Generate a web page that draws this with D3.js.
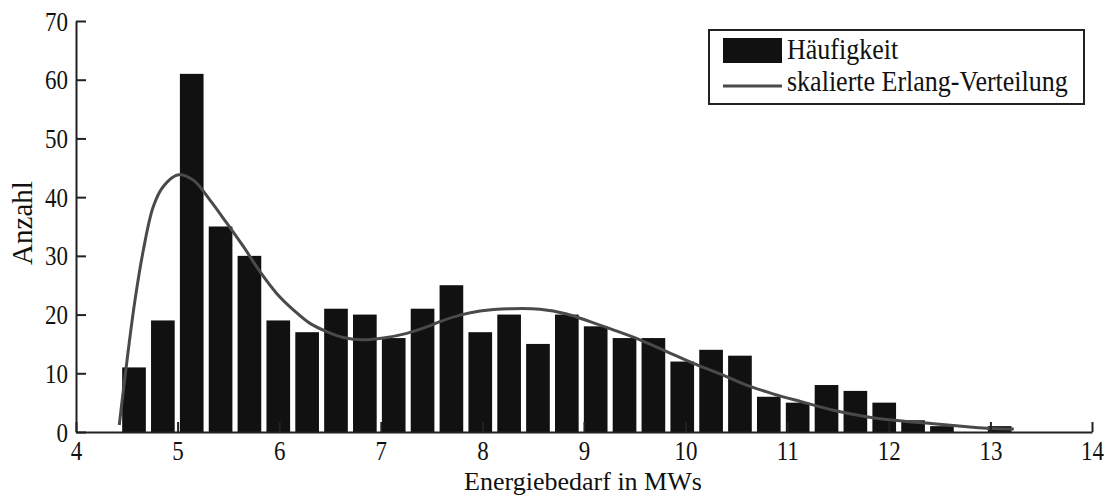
<!DOCTYPE html>
<html>
<head>
<meta charset="utf-8">
<script src="https://cdn.jsdelivr.net/npm/d3@7"></script>
<style>
  body { margin: 0; background: #fff; }
  text { font-family: "Liberation Serif", "Times New Roman", serif; }
</style>
</head>
<body>
<svg id="chart" width="1107" height="495"></svg>
<script>
// bin centers (MWs) and counts
var binCenters = [4.571, 4.855, 5.139, 5.423, 5.707, 5.991, 6.275, 6.559, 6.843, 7.127,
                  7.411, 7.695, 7.979, 8.263, 8.547, 8.831, 9.115, 9.399, 9.683, 9.967,
                  10.251, 10.535, 10.819, 11.103, 11.387, 11.671, 11.955, 12.239, 12.523, 12.807, 13.091];
var counts = [11, 19, 61, 35, 30, 19, 17, 21, 20, 16,
              21, 25, 17, 20, 15, 20, 18, 16, 16, 12,
              14, 13, 6, 5, 8, 7, 5, 2, 1, 0, 1];
var binWidth = 0.284;

var curveX = [4.426, 4.466, 4.515, 4.581, 4.663, 4.761, 4.859, 5.007, 5.155, 5.319,
              5.483, 5.647, 5.811, 5.975, 6.139, 6.303, 6.467, 6.631, 6.828, 7.025,
              7.255, 7.452, 7.583, 7.78, 7.976, 8.30, 8.567, 8.83, 9.06, 9.288,
              9.551, 9.814, 10.076, 10.34, 10.60, 10.86, 11.13, 11.454, 11.78, 12.11,
              12.44, 12.77, 13.0, 13.23];
var curveY = [1.2, 7.1, 14.0, 22.5, 31.0, 38.4, 41.8, 43.8, 42.9, 39.5,
              35.6, 31.6, 27.3, 23.6, 20.8, 18.5, 17.1, 16.1, 15.7, 16.0,
              16.8, 17.9, 18.8, 19.9, 20.6, 21.0, 20.9, 20.1, 18.8, 17.4,
              15.7, 13.7, 11.7, 9.9, 8.0, 6.5, 5.2, 3.7, 2.6, 1.9,
              1.4, 0.9, 0.6, 0.5];

var xTicks = [4, 5, 6, 7, 8, 9, 10, 11, 12, 13, 14];
var yTicks = [0, 10, 20, 30, 40, 50, 60, 70];
var legendLabels = ["Häufigkeit", "skalierte Erlang-Verteilung"];

var svg = d3.select("#chart");
var margin = {left: 76, top: 21, right: 15, bottom: 63};
var width = 1107 - margin.left - margin.right,
    height = 495 - margin.top - margin.bottom;

var g = svg.append("g").attr("transform", "translate(" + margin.left + "," + margin.top + ")");

var x = d3.scaleLinear().domain([4, 14]).range([0, width]);
var y = d3.scaleLinear().domain([0, 70]).range([height, 0]);

var barFrac = 0.82;
g.selectAll(".bar")
    .data(counts)
    .enter()
    .append("rect")
    .attr("class", "bar")
    .attr("x", function (d, i) {return x(binCenters[i] - binWidth * barFrac / 2);})
    .attr("width", function (d, i) {return x(binCenters[i] + binWidth * barFrac / 2) - x(binCenters[i] - binWidth * barFrac / 2);})
    .attr("y", function (d) {return y(d);})
    .attr("height", function (d) {return y(0) - y(d);})
    .attr("fill", "#111");

var line = d3.line()
    .x(function (d, i) {return x(curveX[i]);})
    .y(function (d) {return y(d);})
    .curve(d3.curveCatmullRom.alpha(0.5));

g.append("path")
    .datum(curveY)
    .attr("d", line)
    .attr("fill", "none")
    .attr("stroke", "#4a4a4a")
    .attr("stroke-width", 3);

var xAxis = g.append("g")
    .attr("transform", "translate(0," + height + ")")
    .call(d3.axisBottom(x).tickValues(xTicks).tickSizeInner(-10).tickSizeOuter(0).tickFormat(d3.format("d")));
var yAxis = g.append("g")
    .call(d3.axisLeft(y).tickValues(yTicks).tickSizeInner(-10).tickSizeOuter(0).tickFormat(d3.format("d")));

[xAxis, yAxis].forEach(function (a) {
    a.select(".domain").attr("stroke", "#222").attr("stroke-width", 2);
    a.selectAll(".tick line").attr("stroke", "#222").attr("stroke-width", 2);
    a.selectAll(".tick text")
        .attr("fill", "#111")
        .attr("x", 0).attr("y", 0).attr("dy", 0)
        .style("font-size", "23px")
        .style("font-family", "Liberation Serif");
});
// text in the source is a bit taller than wide
xAxis.selectAll(".tick text").attr("transform", "translate(0,28) scale(1,1.18)");
yAxis.selectAll(".tick text").attr("transform", "translate(-8,9) scale(1,1.22)");

svg.append("text")
    .attr("transform", "translate(583,490)")
    .attr("text-anchor", "middle")
    .attr("fill", "#111")
    .style("font-size", "26px")
    .text("Energiebedarf in MWs");

svg.append("text")
    .attr("transform", "translate(32,223) rotate(-90)")
    .attr("text-anchor", "middle")
    .attr("fill", "#111")
    .style("font-size", "29px")
    .text("Anzahl");

// legend
var legend = svg.append("g").attr("transform", "translate(709,30)");
legend.append("rect")
    .attr("width", 375).attr("height", 74)
    .attr("fill", "#fff").attr("stroke", "#222").attr("stroke-width", 2);
legend.append("rect")
    .attr("x", 14).attr("y", 8).attr("width", 59).attr("height", 25)
    .attr("fill", "#111");
legend.append("line")
    .attr("x1", 14).attr("x2", 73).attr("y1", 56).attr("y2", 56)
    .attr("stroke", "#4a4a4a").attr("stroke-width", 3);
legend.selectAll(".ltext")
    .data(legendLabels)
    .enter()
    .append("text")
    .attr("transform", function (d, i) {return "translate(78," + (29 + i * 32) + ") scale(1,1.1)";})
    .attr("fill", "#111")
    .style("font-size", "26px")
    .text(function (d) {return d;});
</script>
</body>
</html>
